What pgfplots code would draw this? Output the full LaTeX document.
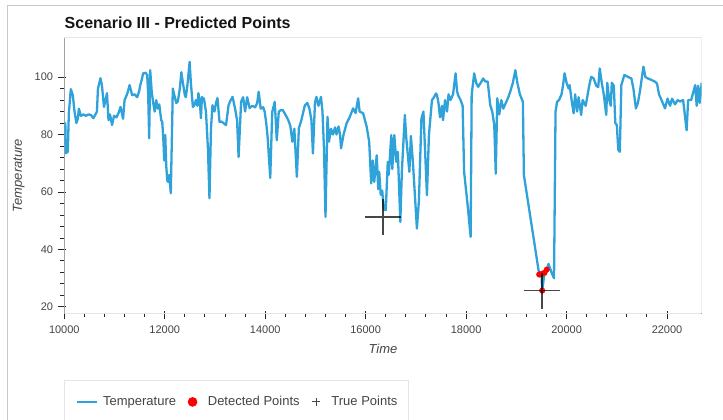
\documentclass[border=0pt]{standalone}
\usepackage{fontspec}
\setmainfont{Liberation Sans}
\usepackage{pgfplots}
\pgfplotsset{compat=1.18}

\definecolor{tempblue}{HTML}{30A2DA}
\definecolor{labelgray}{HTML}{444444}
\definecolor{framegray}{HTML}{C8C8C8}
\definecolor{outlinegray}{HTML}{E5E5E5}

\begin{document}
\begin{tikzpicture}
\path[use as bounding box] (0pt,0pt) rectangle (723pt,420pt);
% page frame
\draw[framegray, line width=1pt] (7.3pt,0pt) -- (7.3pt,414pt) -- (723pt,414pt);
% title
\node[anchor=base west, inner sep=0pt, font=\bfseries\fontsize{16}{19}\selectfont, text={rgb,255:red,20;green,20;blue,20}]
  at (64.5pt,391.7pt) {Scenario III - Predicted Points};

\begin{axis}[
  at={(64.3pt,106.7pt)}, anchor=south west,
  scale only axis,
  width=637.4pt, height=275.6pt,
  xmin=10000, xmax=22690,
  ymin=17.8, ymax=113.7,
  axis x line*=bottom, axis y line*=left,
  axis line style={-, black!85, line width=1pt},
  xtick={10000,12000,...,22000},
  ytick={20,40,...,100},
  minor x tick num=4, minor y tick num=4,
  tick align=outside,
  major tick length=8pt, minor tick length=4pt,
  major x tick style={black!85, line width=1pt, yshift=2pt},
  major y tick style={black!85, line width=1pt, xshift=2pt},
  minor x tick style={black!85, line width=1pt},
  minor y tick style={black!85, line width=1pt},
  scaled x ticks=false, scaled y ticks=false,
  /pgf/number format/assume math mode=true,
  /pgf/number format/1000 sep={},
  ticklabel style={font=\fontsize{11}{13}\selectfont, text=labelgray},
  xticklabel style={anchor=north, inner sep=0pt, yshift=-4.5pt},
  yticklabel style={anchor=east, inner sep=0pt, xshift=-3pt},
  xlabel={Time}, ylabel={Temperature},
  label style={font=\itshape\fontsize{13}{15}\selectfont, text=labelgray},
  xlabel style={at={(axis description cs:0.5,-0.1306)}, anchor=center, inner sep=0pt},
  ylabel style={at={(axis description cs:-0.0715,0.5)}, anchor=center, inner sep=0pt},
  legend columns=3,
  legend style={
    at={(axis description cs:0,-0.242)}, anchor=north west,
    draw=outlinegray, line width=1pt,
    inner xsep=10.7pt, inner ysep=16pt,
    font=\fontsize{13}{15}\selectfont, text=labelgray,
    nodes={inner sep=0pt, anchor=base west},
    /tikz/every odd column/.append style={column sep=5.3pt},
    /tikz/every even column/.append style={column sep=6.5pt},
  },
]
\draw[outlinegray, line width=1pt] (rel axis cs:0,0) rectangle (rel axis cs:1,1);

\addplot[tempblue, line width=2.3pt, line join=round, mark=none,
  legend image code/.code={\path[draw=none, fill=none] (0pt,-1pt) rectangle (20pt,9pt);
    \draw[tempblue, line width=2.3pt] (0pt,4pt) -- (20pt,4pt);}]
coordinates {
(10000,82) (10020,84) (10030,73.5) (10070,74) (10090,87.4) (10130,95.8) (10170,93.7)
(10200,88.5) (10240,84) (10270,85.5) (10290,89) (10330,86.5) (10380,87) (10430,86.5)
(10480,87) (10530,86.8) (10580,85.7) (10620,87) (10650,88) (10670,96) (10720,99.6)
(10750,97) (10790,89.6) (10820,92) (10850,94.4) (10880,85) (10910,87) (10950,83.3)
(10990,86.5) (11040,86) (11080,87.5) (11120,89.6) (11170,85.5) (11200,92) (11250,94)
(11300,97.2) (11350,93.7) (11400,94) (11450,93) (11490,95) (11510,97) (11540,99)
(11570,101.3) (11620,101.5) (11650,100.7) (11670,94) (11690,78.7) (11710,102.4)
(11740,95) (11770,91) (11800,88) (11830,92) (11860,89) (11890,90.5) (11930,85)
(11950,84.4) (11970,79) (11990,71) (12010,79.8) (12030,69) (12050,64) (12070,63.5)
(12090,66) (12120,59.6) (12150,86) (12160,96) (12200,93) (12230,91) (12260,91.5)
(12300,96) (12330,101.7) (12370,97) (12400,93.7) (12420,93) (12450,97) (12495,105.3)
(12520,98) (12540,93.7) (12560,89.6) (12590,90.2) (12620,92) (12650,90) (12670,94.4)
(12700,91) (12720,85.7) (12740,93) (12780,92.5) (12820,88) (12860,75) (12890,57.8)
(12920,82) (12950,90.2) (12990,88) (13020,91) (13050,92.7) (13090,84.4) (13130,84.5)
(13170,84) (13220,83.3) (13270,90.2) (13300,91.5) (13350,93.1) (13400,89) (13440,85)
(13470,72.2) (13520,91.4) (13560,93) (13600,88) (13640,93) (13690,89.2) (13740,90)
(13800,89.5) (13840,91) (13870,94.9) (13910,89) (13960,89.5) (13990,87.9) (14020,84)
(14050,78.7) (14100,64.9) (14140,87.9) (14190,91.4) (14230,78) (14270,88) (14310,88.5)
(14350,88.5) (14400,87) (14460,85) (14500,83) (14540,77.5) (14580,82) (14630,65.3)
(14670,82.2) (14720,85) (14760,88) (14790,90.2) (14840,91) (14880,89) (14920,85)
(14950,73.4) (14990,91) (15020,93.1) (15060,90) (15110,93.1) (15140,88) (15170,75)
(15200,51.3) (15240,86.2) (15270,77.5) (15310,82) (15350,80) (15390,82.5) (15420,80)
(15460,82.8) (15490,80) (15510,75.2) (15560,80) (15620,83.9) (15680,86) (15750,89.1)
(15800,87.5) (15850,92.6) (15880,88) (15950,87.4) (16020,82.7) (16070,77.5) (16110,63)
(16140,71) (16170,63.5) (16220,72.8) (16250,61) (16270,67) (16300,59) (16330,60.5)
(16360,54) (16400,53.7) (16440,70.5) (16460,66) (16510,79.8) (16530,68) (16570,79.8)
(16610,70.5) (16640,74) (16690,49.6) (16720,67) (16780,86.8) (16810,78.5) (16870,67)
(16900,79.5) (16940,70.5) (17020,47.3) (17060,57) (17110,85.6) (17150,88) (17220,58.9)
(17260,80) (17320,92) (17360,93) (17400,94.3) (17420,93.7) (17450,91) (17480,86)
(17520,90) (17540,85) (17580,92) (17620,88) (17650,94) (17690,92) (17740,94)
(17790,101.3) (17820,95) (17840,93.7) (17890,92) (17930,90) (17960,67) (18030,55.4)
(18090,44.4) (18110,93.7) (18160,101.3) (18200,98) (18240,96.6) (18290,98) (18340,99.5)
(18380,98.5) (18430,98.4) (18480,90.2) (18520,88) (18560,83.3) (18590,66.4) (18620,92.6)
(18660,87) (18700,92) (18740,89) (18790,91) (18840,93) (18880,95) (18930,98)
(18980,102.4) (19020,98) (19070,94) (19130,91.4) (19150,65.9) (19440,33) (19455,31.3)
(19500,31.5) (19515,25.7) (19560,31.9) (19605,33) (19640,35) (19700,32) (19750,30)
(19780,88) (19810,91.4) (19850,92) (19900,94) (19930,97.2) (19960,101.3) (20000,98)
(20040,96) (20060,97.2) (20100,92) (20140,87.4) (20170,94) (20210,88) (20240,93)
(20290,86.8) (20320,92) (20380,90) (20420,94) (20450,97) (20490,100.1) (20540,99.5)
(20590,97) (20630,96.5) (20660,103) (20700,98) (20740,94) (20790,86.8) (20810,98)
(20850,92) (20880,90) (20900,98) (20940,97) (20970,84) (21000,83.3) (21030,74.6)
(21060,74) (21090,97.2) (21150,100.7) (21230,100) (21290,99.5) (21330,96) (21380,89.1)
(21420,91) (21460,95) (21530,103.6) (21570,100) (21620,99.5) (21690,99) (21750,98.5)
(21800,97.8) (21840,94) (21890,92) (21960,89.1) (22010,92.5) (22060,90) (22100,92.5)
(22160,90.5) (22210,92) (22260,91.5) (22320,92) (22390,81.5) (22420,92) (22480,92)
(22560,97.2) (22590,90) (22620,97) (22650,91) (22690,98)
};
\addlegendentry{Temperature}

\addplot[only marks, mark=*, mark size=2.8pt, red, mark options={draw=red, fill=red},
  legend image code/.code={\path[draw=none, fill=none] (0pt,-1pt) rectangle (20pt,9pt);
    \fill[red] (10pt,4pt) circle (4.3pt);}]
coordinates {
(19455,31.3) (19500,31.5) (19515,25.7) (19560,31.9) (19605,33.0)
};
\addlegendentry{Detected Points}

\addplot[only marks, mark=+, mark size=18pt, black, opacity=0.72,
  mark options={line width=1.5pt},
  legend image code/.code={\path[draw=none, fill=none] (0pt,-1pt) rectangle (20pt,9pt);
    \draw[black, line width=1pt] (5.8pt,4pt) -- (14.2pt,4pt) (10pt,-0.2pt) -- (10pt,8.2pt);}]
coordinates {
(16345,51.3) (19515,25.7)
};
\addlegendentry{True Points}
\end{axis}
\end{tikzpicture}
\end{document}
